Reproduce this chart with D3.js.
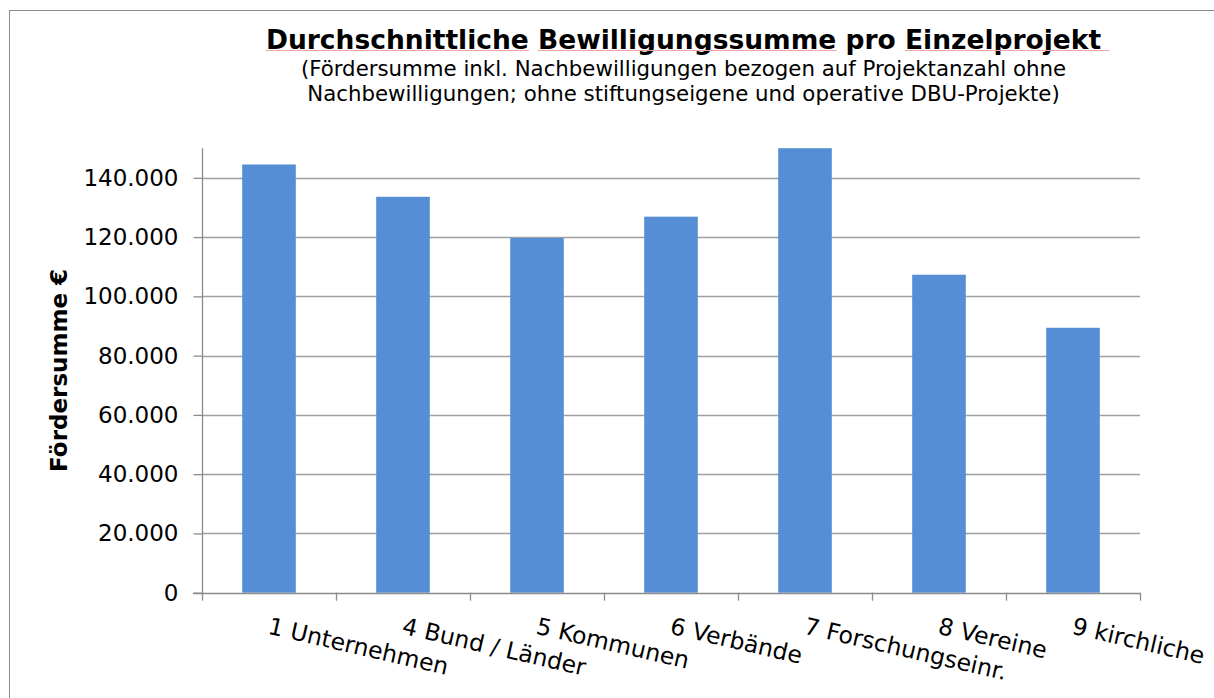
<!DOCTYPE html>
<meta charset="utf-8">

<!-- Load d3.js -->
<script src="https://d3js.org/d3.v7.min.js"></script>

<style>
body { margin: 0; background: #fff; }
svg { font-family: "DejaVu Sans", Verdana, sans-serif; }
</style>

<!-- Create a div where the graph will take place -->
<div id="my_dataviz"></div>

<script>

// data
var categories = ["1 Unternehmen", "4 Bund / Länder", "5 Kommunen", "6 Verbände",
                  "7 Forschungseinr.", "8 Vereine", "9 kirchliche"];
var values = [144500, 133600, 119700, 126900, 150000, 107300, 89400];
var yTicks = [0, 20000, 40000, 60000, 80000, 100000, 120000, 140000];
var yMax = 150000;

var titleText = "Durchschnittliche Bewilligungssumme pro Einzelprojekt";
var subtitleLines = ["(Fördersumme inkl. Nachbewilligungen bezogen auf Projektanzahl ohne",
                     "Nachbewilligungen; ohne stiftungseigene und operative DBU-Projekte)"];
var yLabel = "Fördersumme €";

// german number format 140.000
var de = d3.formatLocale({decimal: ",", thousands: ".", grouping: [3], currency: ["", " €"]});
var fmt = de.format(",d");

var W = 1214, H = 698;
var plot = {left: 202, right: 1140, top: 148.2, bottom: 592.7};

var svg = d3.select("#my_dataviz")
  .append("svg")
    .attr("width", W)
    .attr("height", H);

// outer chart frame (only left and top edge are visible)
svg.append("rect")
  .attr("x", 9.5)
  .attr("y", 10.5)
  .attr("width", 1400)
  .attr("height", 900)
  .attr("fill", "none")
  .attr("stroke", "#8c8c8c")
  .attr("stroke-width", 1);

// scales
var x = d3.scaleBand()
  .domain(categories)
  .range([plot.left, plot.right])
  .padding(0);

var y = d3.scaleLinear()
  .domain([0, yMax])
  .range([plot.bottom, plot.top]);

// gridlines
svg.append("g")
  .selectAll("line")
  .data(yTicks.filter(function(d) { return d > 0; }))
  .enter().append("line")
    .attr("x1", plot.left)
    .attr("x2", plot.right)
    .attr("y1", function(d) { return Math.round(y(d)) + 0.5; })
    .attr("y2", function(d) { return Math.round(y(d)) + 0.5; })
    .attr("stroke", "#a0a0a0")
    .attr("stroke-width", 1.3);

// bars
var barW = x.bandwidth() * 0.4;
svg.append("g")
  .selectAll("rect")
  .data(values)
  .enter().append("rect")
    .attr("x", function(d, i) { return x(categories[i]) + (x.bandwidth() - barW) / 2; })
    .attr("y", function(d) { return y(Math.min(d, yMax)); })
    .attr("width", barW)
    .attr("height", function(d) { return y(0) - y(Math.min(d, yMax)); })
    .attr("fill", "#558ed5");

// Y axis
var yAxis = svg.append("g")
  .attr("transform", "translate(" + (plot.left + 0.5) + ",0)")
  .call(d3.axisLeft(y).tickValues(yTicks).tickFormat(fmt).tickSize(9).tickPadding(15));
yAxis.select(".domain")
  .attr("d", "M0," + plot.top + "V" + plot.bottom)
  .attr("stroke", "#8c8c8c")
  .attr("stroke-width", 1.3);
yAxis.selectAll(".tick line").attr("stroke", "#8c8c8c").attr("stroke-width", 1.3);
yAxis.selectAll(".tick text")
  .attr("fill", "#000")
  .style("font-family", "'DejaVu Sans', Verdana, sans-serif")
  .style("font-size", "23px");

// X axis, ticks between the categories
var bounds = categories.map(function(c) { return x(c); }).concat([plot.right]);
svg.append("line")
  .attr("x1", plot.left - 9)
  .attr("x2", plot.right)
  .attr("y1", Math.round(y(0)) + 0.5)
  .attr("y2", Math.round(y(0)) + 0.5)
  .attr("stroke", "#8c8c8c")
  .attr("stroke-width", 1.3);
svg.append("g")
  .selectAll("line")
  .data(bounds)
  .enter().append("line")
    .attr("x1", function(d) { return Math.round(d) + 0.5; })
    .attr("x2", function(d) { return Math.round(d) + 0.5; })
    .attr("y1", y(0))
    .attr("y2", y(0) + 8)
    .attr("stroke", "#8c8c8c")
    .attr("stroke-width", 1.3);

// rotated category labels
svg.append("g")
  .selectAll("text")
  .data(categories)
  .enter().append("text")
    .attr("transform", function(d) {
      return "translate(" + (x(d) + x.bandwidth() / 2) + ",634) rotate(13)";
    })
    .attr("x", -2)
    .attr("text-anchor", "start")
    .style("font-size", "23.5px")
    .attr("fill", "#000")
    .text(function(d) { return d; });

// y axis title
svg.append("text")
  .attr("transform", "translate(67," + ((plot.top + plot.bottom) / 2) + ") rotate(-90)")
  .attr("text-anchor", "middle")
  .style("font-size", "23px")
  .style("font-weight", "bold")
  .text(yLabel);

// chart title with the faint red spell check underlines
var title = svg.append("text")
  .attr("x", 683.5)
  .attr("y", 49)
  .attr("text-anchor", "middle")
  .style("font-size", "26.5px")
  .style("font-weight", "bold");
var words = titleText.split(" ");
words.forEach(function(w, i) {
  title.append("tspan").text(w + (i < words.length - 1 ? " " : ""));
});
title.selectAll("tspan").each(function(d, i) {
  if (words[i] === "pro") return;
  var b = this.getBBox();
  var sp = (i < words.length - 1) ? 0 : 8;
  svg.append("line")
    .attr("x1", b.x)
    .attr("x2", b.x + b.width + sp - (i < words.length - 1 ? 9 : 0))
    .attr("y1", 50.5)
    .attr("y2", 50.5)
    .attr("stroke", "#f3a3a3")
    .attr("stroke-width", 1);
});

// subtitle
svg.append("g")
  .selectAll("text")
  .data(subtitleLines)
  .enter().append("text")
    .attr("x", 683.5)
    .attr("y", function(d, i) { return 76 + i * 25; })
    .attr("text-anchor", "middle")
    .style("font-size", "21.3px")
    .text(function(d) { return d; });

</script>
